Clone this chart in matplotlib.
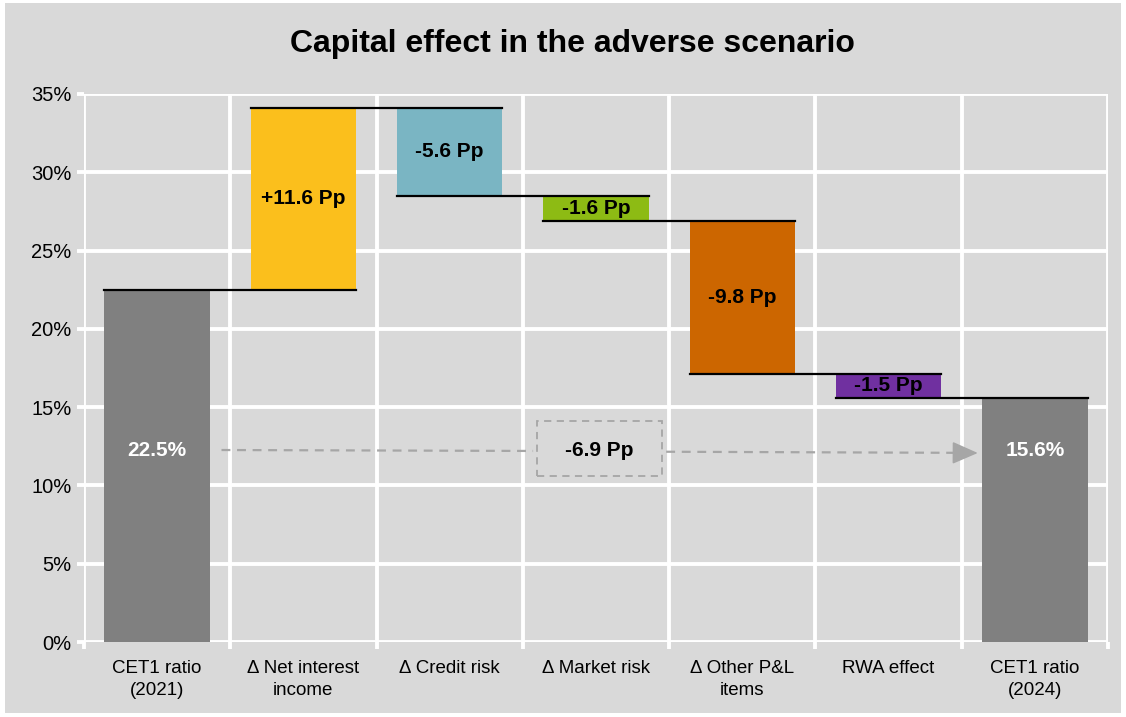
import numpy as np
import matplotlib
matplotlib.use("Agg")
from matplotlib import pyplot as plt
from matplotlib.patches import Rectangle

plt.rcParams['font.family'] = ['Liberation Sans', 'DejaVu Sans']

categories = ['CET1 ratio\n(2021)', '\u0394 Net interest\nincome', '\u0394 Credit risk',
              '\u0394 Market risk', '\u0394 Other P&L\nitems', 'RWA effect', 'CET1 ratio\n(2024)']
start_ratio = 22.5
changes = [11.6, -5.6, -1.6, -9.8, -1.5]
end_ratio = 15.6
total_change = -6.9
change_colors = ['#fbbf1c', '#7ab5c3', '#8dbb14', '#cc6600', '#7030a0']
total_color = '#808080'
bg = '#d9d9d9'
arrow_col = '#a6a6a6'

fig = plt.figure(figsize=(11.26, 7.17), dpi=100)
fig.patch.set_facecolor('white')
fig.patches.append(Rectangle((0.004, 0.006), 0.992, 0.99, transform=fig.transFigure,
                             facecolor=bg, edgecolor='none', zorder=-10))
ax = fig.add_axes([0.0746, 0.1046, 0.9094, 0.7644])
ax.set_facecolor(bg)

w = 0.72
x = np.arange(len(categories))

# running levels
levels = [start_ratio]
for c in changes:
    levels.append(levels[-1] + c)

ax.bar(0, start_ratio, width=w, color=total_color, zorder=3)
ax.bar(6, end_ratio, width=w, color=total_color, zorder=3)
for i, c in enumerate(changes):
    lo = min(levels[i], levels[i + 1])
    ax.bar(i + 1, abs(c), bottom=lo, width=w, color=change_colors[i], zorder=3)
    lab = ('+' if c > 0 else '') + f'{c:.1f} Pp'
    ax.text(i + 1, lo + abs(c) / 2, lab, ha='center', va='center',
            fontsize=15, fontweight='bold', color='black', zorder=5)

# connectors
for i in range(len(levels)):
    ax.plot([i - w / 2, i + 1 + w / 2], [levels[i], levels[i]], color='black', lw=1.6, zorder=4)

ax.text(0, 12.25, f'{start_ratio:.1f}%', ha='center', va='center', fontsize=15,
        fontweight='bold', color='white', zorder=5)
ax.text(6, 12.2, f'{end_ratio:.1f}%', ha='center', va='center', fontsize=15,
        fontweight='bold', color='white', zorder=5)

# total change arrow + box
ax.plot([0.44, 2.57], [12.26, 12.2], color=arrow_col, lw=1.6, ls=(0, (4, 3)), zorder=4)
ax.plot([3.48, 5.5], [12.15, 12.08], color=arrow_col, lw=1.6, ls=(0, (4, 3)), zorder=4)
ax.annotate('', xy=(5.61, 12.07), xytext=(5.45, 12.08),
            arrowprops=dict(arrowstyle='-|>,head_length=0.8,head_width=0.35', color=arrow_col,
                            lw=1.2, mutation_scale=20, shrinkA=0, shrinkB=0), zorder=4)
ax.add_patch(Rectangle((2.595, 10.6), 0.855, 3.5, facecolor='none', edgecolor=arrow_col,
                       lw=1.3, ls=(0, (4, 3)), zorder=4))
ax.text(3.02, 12.25, f'{total_change:.1f} Pp', ha='center', va='center', fontsize=15,
        fontweight='bold', color='black', zorder=5)

ax.set_xlim(-0.5, 6.5)
ax.set_ylim(0, 35)
ax.set_yticks(np.arange(0, 36, 5))
ax.set_yticklabels([f'{v}%' for v in range(0, 36, 5)])
ax.set_xticks(x)
ax.set_xticklabels(categories, linespacing=1.35)
ax.set_xticks(np.arange(-0.5, 7, 1), minor=True)
ax.tick_params(axis='x', which='major', length=0, labelsize=13.5, pad=13)
ax.tick_params(axis='x', which='minor', length=5, width=2.8, color='white')
ax.tick_params(axis='y', length=5, width=2.8, color='white', labelsize=14.5, pad=4)
ax.grid(axis='y', which='major', color='white', lw=2.8, zorder=0)
ax.grid(axis='x', which='minor', color='white', lw=2.8, zorder=0)
ax.set_axisbelow(True)
for s in ax.spines.values():
    s.set_visible(False)

fig.text(0.508, 0.938, 'Capital effect in the adverse scenario', ha='center', va='center',
         fontsize=23, fontweight='bold')

fig.savefig('out.png', dpi=100, facecolor=fig.get_facecolor())
